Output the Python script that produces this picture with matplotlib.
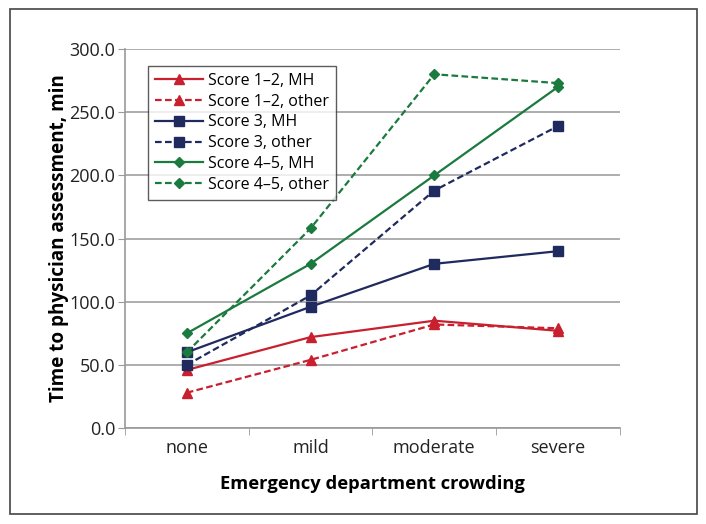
import matplotlib.pyplot as plt
from matplotlib.patches import Rectangle

plt.rcParams['font.family'] = ['Open Sans', 'DejaVu Sans']

# Data
categories = ['none', 'mild', 'moderate', 'severe']
score12_mh = [46, 72, 85, 77]
score12_other = [28, 54, 82, 79]
score3_mh = [60, 96, 130, 140]
score3_other = [50, 105, 188, 239]
score45_mh = [75, 130, 200, 270]
score45_other = [60, 158, 280, 273]

red = '#c8202f'
navy = '#1f2a5e'
green = '#1b7a3e'

fig = plt.figure(figsize=(7.06, 5.24), dpi=100)
ax = fig.add_axes([0.177, 0.183, 0.701, 0.7235])

x = range(len(categories))
ax.plot(x, score12_mh, color=red, marker='^', ms=7, lw=1.6, label='Score 1–2, MH')
ax.plot(x, score12_other, color=red, marker='^', ms=7, lw=1.6, ls=(0, (3, 1.5)), label='Score 1–2, other')
ax.plot(x, score3_mh, color=navy, marker='s', ms=7, lw=1.6, label='Score 3, MH')
ax.plot(x, score3_other, color=navy, marker='s', ms=7, lw=1.6, ls=(0, (3, 1.5)), label='Score 3, other')
ax.plot(x, score45_mh, color=green, marker='D', ms=5, lw=1.6, label='Score 4–5, MH')
ax.plot(x, score45_other, color=green, marker='D', ms=5, lw=1.6, ls=(0, (3, 1.5)), label='Score 4–5, other')

ax.set_xlim(-0.5, 3.5)
ax.set_ylim(0, 300)
ax.set_yticks(range(0, 301, 50))
ax.set_yticklabels([f'{v:.1f}' for v in range(0, 301, 50)], fontsize=13, color='#222222')
ax.set_xticks(list(x))
ax.set_xticklabels(categories, fontsize=13, color='#222222')
ax.set_xticks([-0.5, 0.5, 1.5, 2.5, 3.5], minor=True)
ax.tick_params(axis='x', which='major', length=0, pad=8)
ax.tick_params(axis='x', which='minor', length=5, color='#999999')
ax.tick_params(axis='y', length=5, color='#999999', pad=2)

ax.grid(axis='y', color='#a0a0a0', lw=1.2)
ax.set_axisbelow(True)
for side in ['top', 'right']:
    ax.spines[side].set_visible(False)
for side in ['left', 'bottom']:
    ax.spines[side].set_color('#999999')
    ax.spines[side].set_linewidth(1.2)

ax.set_xlabel('Emergency department crowding', fontsize=13.2, fontweight='bold', labelpad=13)
ax.set_ylabel('Time to physician assessment, min', fontsize=13.6, fontweight='bold', labelpad=0)

leg = ax.legend(loc='upper left', bbox_to_anchor=(0.03, 0.977), fontsize=11.5, handlelength=3,
                frameon=True, fancybox=False, edgecolor='#333333', borderpad=0.45,
                labelspacing=0.3, handletextpad=0.3)
leg.get_frame().set_linewidth(1.0)

# outer border
fig.patches.append(Rectangle((0.014, 0.02), 0.973, 0.962, transform=fig.transFigure,
                             fill=False, edgecolor='#444444', lw=1.2))

fig.savefig('out.png', dpi=100)
